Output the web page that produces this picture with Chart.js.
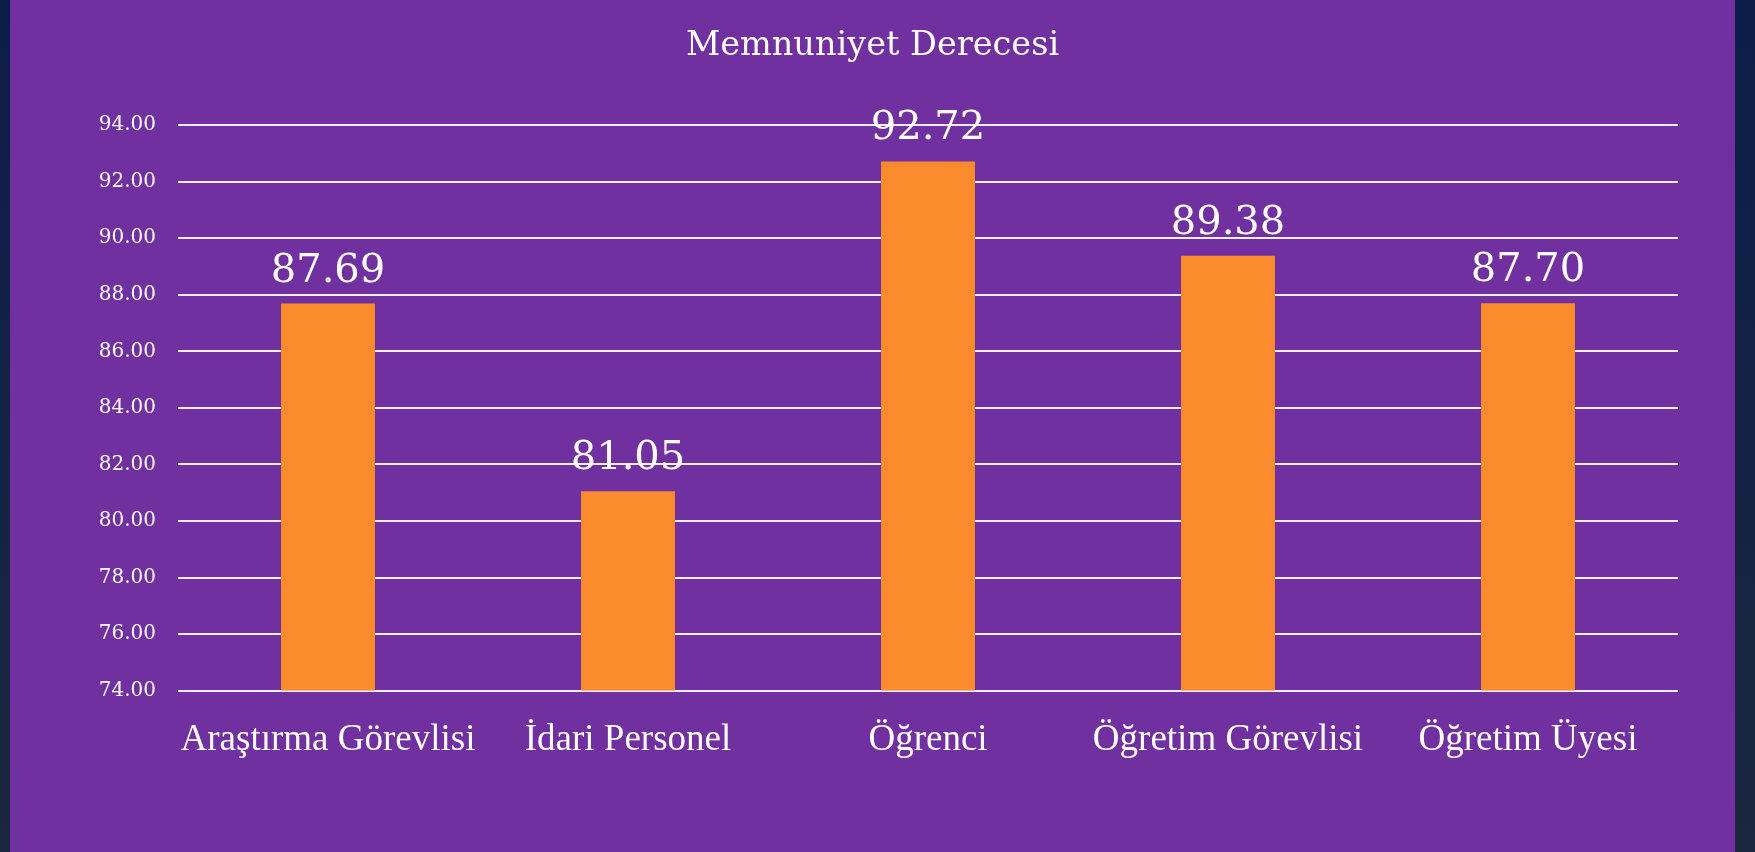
<!DOCTYPE html>
<html>
<head>
<meta charset="utf-8">
<script src="https://cdn.jsdelivr.net/npm/chart.js@4"></script>
<style>
  html, body { margin: 0; padding: 0; }
  body {
    width: 1755px; height: 852px; overflow: hidden;
    background: linear-gradient(180deg, #0c1d48 0%, #1b2740 100%);
  }
  #wrap { position: absolute; left: 10px; top: 0; width: 1725px; height: 852px; background: #7030A0; }
</style>
</head>
<body>
<div id="wrap"><canvas id="mychart" width="1725" height="852"></canvas></div>
<script>
// chart data
const categories = ['Araştırma Görevlisi', 'İdari Personel', 'Öğrenci', 'Öğretim Görevlisi', 'Öğretim Üyesi'];
const satisfaction = [87.69, 81.05, 92.72, 89.38, 87.70];
const yMin = 74;
const yMax = 94;
const yStep = 2;

// draws the value above each bar
const valueLabels = {
    id: 'valueLabels',
    afterDatasetsDraw(chart) {
        const ctx = chart.ctx;
        const meta = chart.getDatasetMeta(0);
        ctx.save();
        ctx.fillStyle = '#ffffff';
        ctx.font = '40px "DejaVu Serif"';
        ctx.textAlign = 'center';
        ctx.textBaseline = 'alphabetic';
        meta.data.forEach(function (bar, i) {
            ctx.fillText(satisfaction[i].toFixed(2), bar.x, bar.y - 22);
        });
        ctx.restore();
    }
};

const ctx = document.getElementById('mychart').getContext('2d');
const myChart = new Chart(ctx, {
    type: 'bar',
    data: {
        labels: categories,
        datasets: [{
            label: 'Memnuniyet Derecesi',
            data: satisfaction,
            backgroundColor: '#FB8B2C',
            borderWidth: 0,
            categoryPercentage: 1,
            barPercentage: 0.313
        }]
    },
    plugins: [valueLabels],
    options: {
        responsive: false,
        animation: false,
        layout: { padding: 0 },
        plugins: {
            legend: { display: false },
            tooltip: { enabled: false },
            title: {
                display: true,
                text: 'Memnuniyet Derecesi',
                color: '#ffffff',
                font: { family: '"DejaVu Serif"', size: 33.5, weight: 'normal' },
                padding: { top: 26, bottom: 59 }
            }
        },
        scales: {
            x: {
                grid: { display: false },
                border: { display: false },
                ticks: {
                    color: '#ffffff',
                    font: { family: '"Liberation Serif"', size: 37 },
                    padding: 19,
                    maxRotation: 0
                },
                afterFit(axis) { axis.height = 161.4; }
            },
            y: {
                min: yMin,
                max: yMax,
                grid: { color: 'rgba(255,255,255,0.92)', lineWidth: 2, drawTicks: false },
                border: { display: false },
                ticks: {
                    stepSize: yStep,
                    color: '#ffffff',
                    font: { family: '"DejaVu Serif"', size: 20 },
                    padding: 22,
                    callback: function (v) { return Number(v).toFixed(2); }
                },
                afterFit(axis) { axis.width = 168; }
            },
            // empty right margin so the title stays centred on the panel
            yRight: {
                position: 'right',
                min: yMin,
                max: yMax,
                grid: { display: false },
                border: { display: false },
                ticks: { display: false },
                afterFit(axis) { axis.width = 57; }
            }
        }
    }
});
</script>
</body>
</html>
